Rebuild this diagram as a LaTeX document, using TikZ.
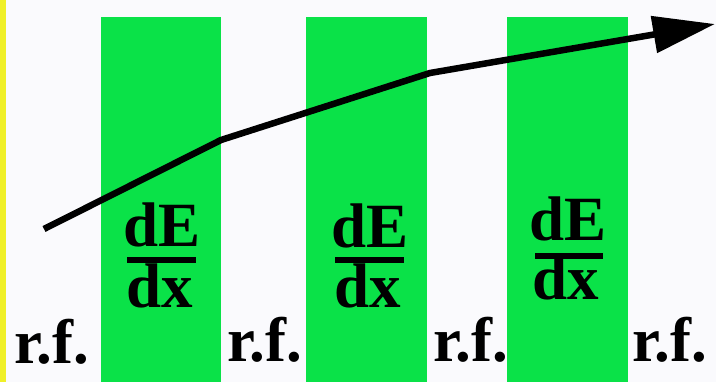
\documentclass[tikz,border=0pt]{standalone}
\usepackage{fontspec}
\setmainfont{Liberation Serif}
\usetikzlibrary{arrows.meta}
\definecolor{bargreen}{RGB}{10,226,72}
\definecolor{bgwhite}{RGB}{250,250,253}
\definecolor{edgeyellow}{RGB}{240,240,40}
\tikzset{
  bar/.style={fill=bargreen},
  big/.style={font=\fontsize{63}{65}\selectfont\bfseries, inner sep=0pt, anchor=base},
  fracrule/.style={line width=6pt},
  path/.style={line width=6.5pt, line join=round, -{Triangle[length=62pt,width=36pt]}}
}
\begin{document}
\begin{tikzpicture}[x=1pt,y=-1pt]
\useasboundingbox (0,0) rectangle (716,382);
\fill[bgwhite] (0,0) rectangle (716,382);
\fill[edgeyellow] (0,0) rectangle (6,382);
% bars
\fill[bar] (101,17) rectangle (221,382);
\fill[bar] (306,17) rectangle (427,382);
\fill[bar] (507,17) rectangle (628,382);
% r.f. labels
\node[big] (rf1) at (52,364) {r.f.};
\node[big] (rf2) at (265,362) {r.f.};
\node[big] (rf3) at (471,362) {r.f.};
\node[big] (rf4) at (670,362) {r.f.};
% fractions
\node[big] (n1) at (162,247) {dE};
\node[big] (d1) at (160,308) {dx};
\draw[fracrule] (127,260) -- (196,260);
\node[big] (n2) at (370,248) {dE};
\node[big] (d2) at (368,308) {dx};
\draw[fracrule] (335,260) -- (404,260);
\node[big] (n3) at (568,241) {dE};
\node[big] (d3) at (566,300) {dx};
\draw[fracrule] (535,256) -- (603,256);
% arrow
\coordinate (p0) at (44,229);
\coordinate (p1) at (221,140);
\coordinate (p2) at (430,73);
\coordinate (tip) at (715,24);
\draw[path] (p0) -- (p1) -- (p2) -- (tip);
\end{tikzpicture}
\end{document}
